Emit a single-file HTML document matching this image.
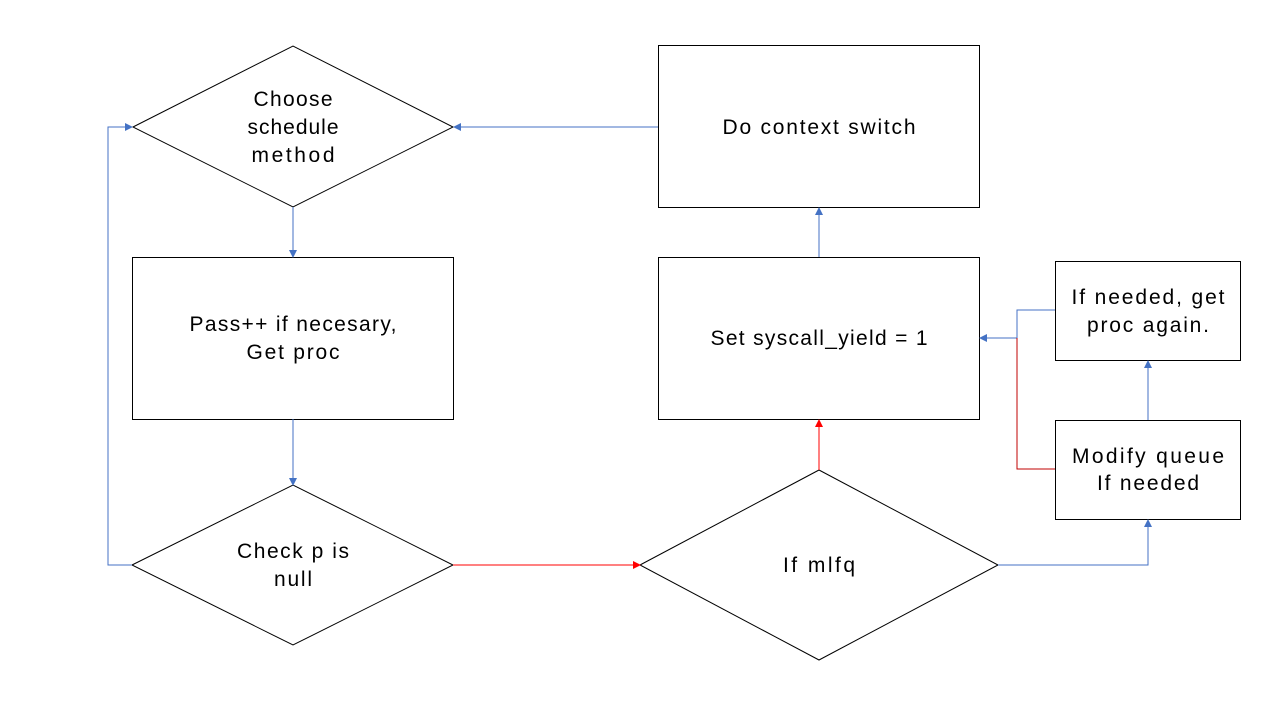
<!DOCTYPE html>
<html><head><meta charset="utf-8"><style>
html,body{margin:0;padding:0;background:#fff;}
svg text{font-family:"Liberation Sans","Noto Sans CJK KR",sans-serif;font-size:21px;fill:#000;}
</style></head><body>
<svg width="1280" height="720" viewBox="0 0 1280 720" xmlns="http://www.w3.org/2000/svg">
<defs>
<marker id="ab" markerWidth="8" markerHeight="8" refX="7" refY="4" orient="auto" markerUnits="userSpaceOnUse"><path d="M0,0 L8,4 L0,8 z" fill="#4472c4"/></marker>
<marker id="ar" markerWidth="8" markerHeight="8" refX="7" refY="4" orient="auto" markerUnits="userSpaceOnUse"><path d="M0,0 L8,4 L0,8 z" fill="#ff0000"/></marker>
</defs>
<g fill="none" stroke="#000" stroke-width="1">
<polygon points="133,127 293,46 453,127 293,207"/>
<rect x="132.5" y="257.5" width="321" height="162"/>
<polygon points="132,565 293,485 453,565 293,645"/>
<polygon points="640,565 819,470 998,565 819,660"/>
<rect x="658.5" y="45.5" width="321" height="162"/>
<rect x="658.5" y="257.5" width="321" height="162"/>
<rect x="1055.5" y="261.5" width="185" height="99"/>
<rect x="1055.5" y="420.5" width="185" height="99"/>
</g>
<g fill="none" stroke="#4472c4" stroke-width="1">
<polyline points="132,565 108,565 108,127 132,127" marker-end="url(#ab)"/>
<line x1="658" y1="127" x2="454" y2="127" marker-end="url(#ab)"/>
<line x1="293" y1="207" x2="293" y2="257" marker-end="url(#ab)"/>
<line x1="293" y1="419" x2="293" y2="485" marker-end="url(#ab)"/>
<line x1="819" y1="257" x2="819" y2="208" marker-end="url(#ab)"/>
<polyline points="998,565 1148,565 1148,520" marker-end="url(#ab)"/>
<line x1="1148" y1="420" x2="1148" y2="361" marker-end="url(#ab)"/>
<polyline points="1055,310 1017,310 1017,338 980,338" marker-end="url(#ab)"/>
</g>
<g fill="none" stroke="#ff0000" stroke-width="1">
<line x1="453" y1="565" x2="640" y2="565" marker-end="url(#ar)"/>
<line x1="819" y1="470" x2="819" y2="420" marker-end="url(#ar)"/>
</g>
<polyline points="1055,469 1017,469 1017,338" fill="none" stroke="#c00000" stroke-width="1"/>
<g text-anchor="middle">
<text x="293" y="106" textLength="79" lengthAdjust="spacing">Choose</text>
<text x="293" y="134" textLength="91" lengthAdjust="spacing">schedule</text>
<text x="293" y="162" textLength="83" lengthAdjust="spacing">method</text>
<text x="293" y="331" textLength="207" lengthAdjust="spacing">Pass++ if necesary,</text>
<text x="293" y="359" textLength="93" lengthAdjust="spacing">Get proc</text>
<text x="293" y="558" textLength="112" lengthAdjust="spacing">Check p is</text>
<text x="293" y="586" textLength="38" lengthAdjust="spacing">null</text>
<text x="819" y="572" textLength="72" lengthAdjust="spacing">If mlfq</text>
<text x="819" y="134" textLength="193" lengthAdjust="spacing">Do context switch</text>
<text x="819" y="345" textLength="217" lengthAdjust="spacing">Set syscall_yield = 1</text>
<text x="1148" y="304" textLength="153" lengthAdjust="spacing">If needed, get</text>
<text x="1148" y="332" textLength="122" lengthAdjust="spacing">proc again.</text>
<text x="1148" y="463" textLength="152" lengthAdjust="spacing">Modify queue</text>
<text x="1148" y="490" textLength="102" lengthAdjust="spacing">If needed</text>
</g>
</svg>
</body></html>
